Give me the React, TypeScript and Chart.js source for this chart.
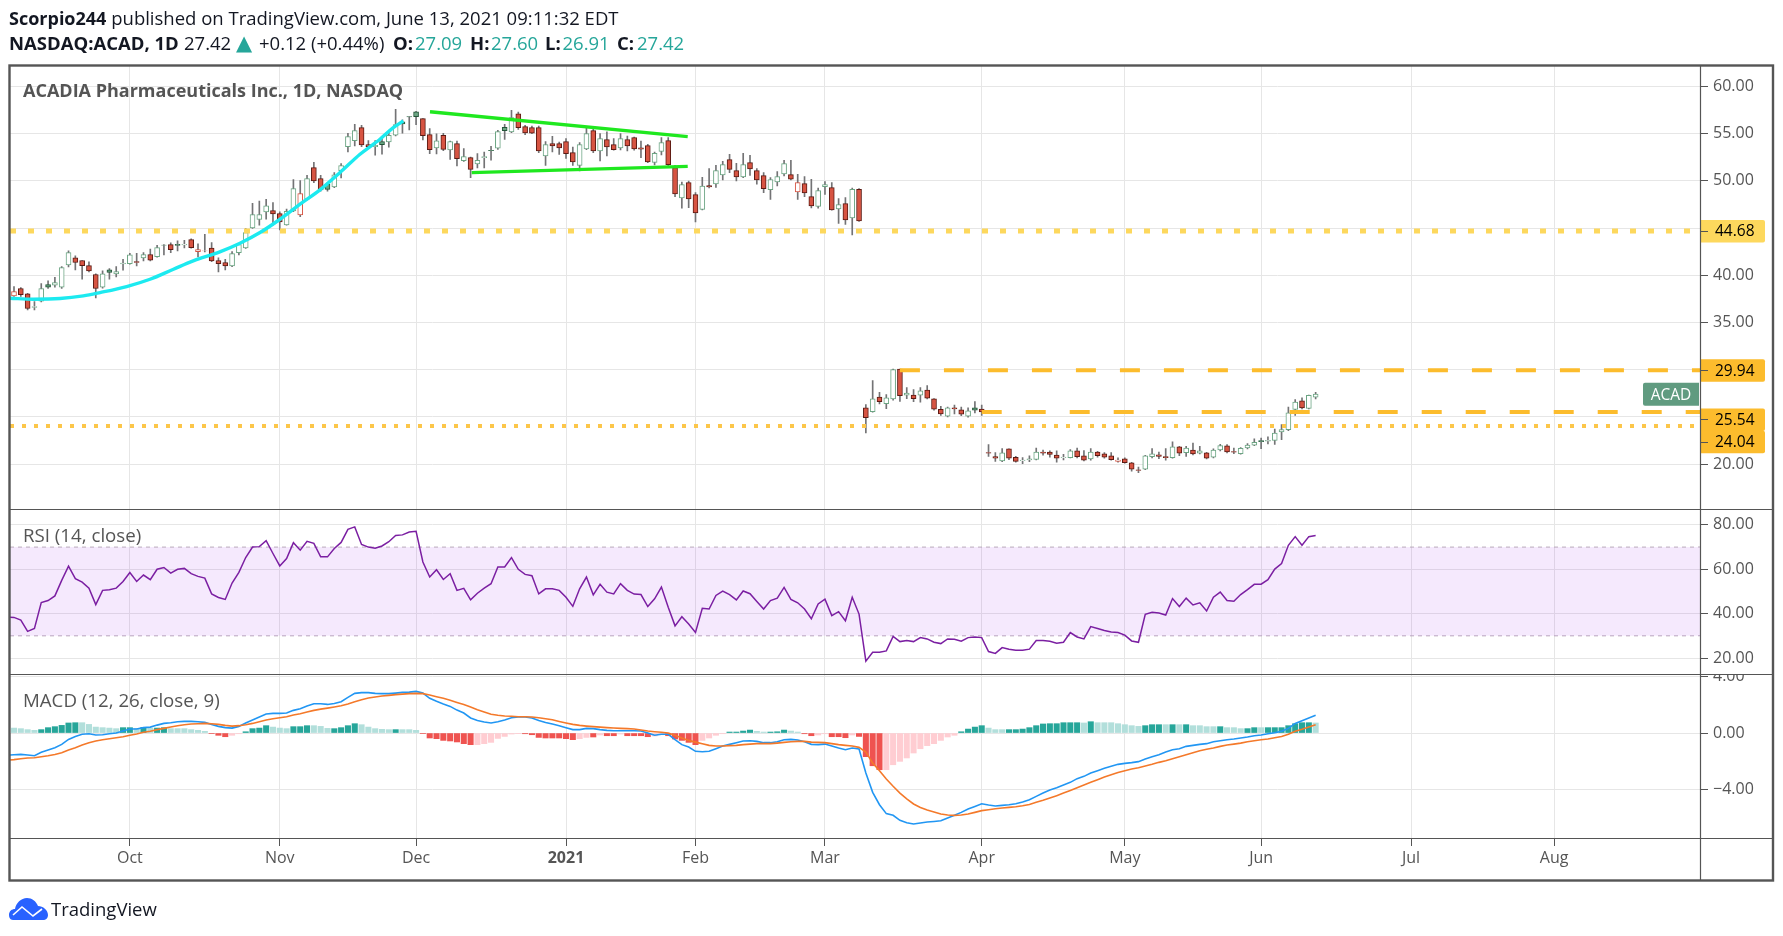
import React, { useEffect, useRef } from "react";
import { Chart, registerables } from "chart.js";

Chart.register(...registerables);

const opens = [
  37.82,38.60,38.03,36.60,37.25,39.02,38.95,38.74,41.10,41.84,
  41.56,41.03,40.08,38.74,40.57,40.15,41.20,41.24,41.45,41.84,
  42.20,41.98,43.20,43.25,43.28,43.21,43.78,42.51,42.59,42.88,
  41.56,41.35,40.99,42.40,42.90,45.00,45.90,46.71,46.85,46.53,
  45.33,46.81,46.39,48.05,51.40,50.24,49.64,49.35,51.08,53.62,
  54.26,55.63,53.83,53.62,54.15,54.12,54.82,56.23,56.80,57.29,
  56.58,54.89,53.48,54.81,53.26,53.93,52.13,52.45,51.78,52.45,
  53.22,53.44,55.66,55.17,57.10,55.73,55.62,55.62,52.63,53.93,
  53.93,54.14,52.98,51.64,53.37,55.31,53.15,54.35,53.82,53.47,
  54.35,54.57,53.50,53.72,51.95,53.12,54.25,51.39,48.18,49.80,
  48.53,46.98,49.49,49.66,50.61,52.24,51.07,50.40,51.92,51.07,
  50.54,49.06,49.87,50.72,50.65,48.82,49.70,48.32,47.30,49.38,
  49.27,47.02,47.58,46.06,49.10,25.96,25.57,27.12,26.42,26.91,
  30.08,27.30,27.33,27.30,27.86,26.91,25.82,25.08,25.96,25.75,
  25.08,25.96,25.85,21.23,20.81,20.35,21.62,20.74,20.38,20.45,
  20.52,21.30,21.30,20.98,20.70,20.70,21.41,20.88,20.56,21.30,
  21.09,20.88,20.31,20.56,20.14,19.40,19.47,20.81,21.00,20.80,
  20.70,21.83,21.23,21.51,21.16,21.20,20.74,21.51,21.94,21.34,
  21.13,21.72,22.01,22.50,22.43,22.53,23.42,23.66,25.80,26.70,
  25.90,27.09,
];
const highs = [
  38.81,38.70,38.10,37.22,39.12,39.40,39.79,40.92,42.58,42.05,
  41.56,41.42,40.15,40.47,40.71,40.92,41.70,42.33,42.33,42.40,
  42.76,43.18,43.25,43.43,43.64,43.71,43.85,43.32,44.34,43.46,
  41.84,41.70,42.51,43.36,44.95,47.62,47.84,48.05,47.70,46.71,
  47.00,50.13,50.02,50.59,51.96,50.59,49.81,50.87,51.82,55.03,
  55.98,55.88,54.26,54.26,54.57,55.24,57.57,56.44,56.80,57.36,
  56.58,55.53,54.96,55.02,54.20,54.21,53.40,52.52,52.87,53.05,
  53.65,55.34,55.98,57.46,57.28,55.87,55.80,55.80,54.14,54.71,
  54.10,54.46,53.58,54.04,55.62,55.45,54.99,55.17,54.46,54.99,
  54.74,54.64,54.21,53.86,53.05,54.57,54.57,51.64,49.87,49.98,
  48.75,50.37,51.29,51.64,52.06,52.80,51.85,52.91,52.70,51.29,
  50.86,50.33,50.97,52.17,52.17,50.69,50.44,50.16,49.24,49.91,
  49.80,48.11,48.22,49.24,49.17,26.31,28.85,27.62,27.37,30.08,
  30.08,28.11,27.90,28.11,28.32,26.94,26.13,26.06,26.27,26.06,
  25.96,26.63,26.27,22.08,21.23,21.65,21.62,20.84,20.70,20.88,
  21.72,21.51,21.41,21.41,21.05,21.55,21.72,21.44,21.65,21.37,
  21.23,21.23,20.67,20.67,20.21,19.71,20.95,21.65,21.30,21.65,
  22.36,21.90,21.90,22.25,21.90,21.27,21.62,22.11,22.08,21.72,
  21.76,22.18,22.68,22.78,22.89,23.73,24.20,26.06,26.84,27.02,
  27.33,27.60,
];
const lows = [
  37.75,37.75,36.34,36.34,37.18,38.60,38.74,38.60,40.89,40.57,
  39.58,40.36,37.61,38.63,39.58,39.83,40.53,41.17,40.99,41.52,
  41.52,41.91,42.16,42.40,42.58,42.90,42.86,41.95,42.47,41.45,
  40.36,40.57,40.92,42.16,42.83,44.95,45.30,45.93,45.30,44.80,
  45.30,46.74,46.21,47.98,49.81,48.90,48.90,49.28,50.30,53.06,
  53.69,53.62,53.48,52.70,52.81,53.55,54.75,55.03,55.38,55.95,
  54.33,52.88,52.84,53.19,52.27,51.57,52.06,50.33,51.36,51.36,
  52.17,53.33,54.39,55.10,55.45,54.88,54.99,52.98,51.64,53.05,
  52.80,52.38,51.64,51.04,53.30,52.98,52.10,52.63,53.23,53.26,
  53.15,53.23,52.45,51.92,51.67,52.73,51.50,48.32,47.09,47.16,
  45.64,46.91,49.24,49.31,50.09,50.86,49.98,50.33,50.58,49.63,
  48.75,48.04,49.45,50.51,50.09,48.04,48.32,47.12,47.09,48.57,
  46.88,45.50,45.39,44.27,45.71,23.31,25.50,26.38,25.89,26.77,
  26.66,26.94,26.63,26.56,26.91,25.71,25.18,25.00,25.32,25.15,
  24.97,25.43,25.18,20.84,20.30,20.28,20.49,20.21,20.07,20.28,
  20.45,20.95,20.74,20.21,20.45,20.67,20.67,20.35,20.42,20.74,
  20.63,20.42,20.21,20.10,19.26,19.11,19.43,20.67,20.60,20.42,
  20.63,20.91,20.84,20.98,21.09,20.56,20.67,21.41,21.20,21.13,
  21.06,21.62,21.97,21.65,22.15,22.11,22.60,23.56,25.18,25.85,
  25.85,26.91,
];
const closes = [
  38.28,37.96,36.48,36.70,38.60,38.74,39.23,40.82,42.40,41.35,
  41.03,40.46,38.60,40.15,40.29,40.39,41.30,42.16,41.35,42.20,
  41.59,42.93,43.18,42.72,43.15,43.27,42.93,42.72,42.60,41.52,
  41.24,40.99,42.30,43.25,44.52,46.43,46.43,47.34,46.50,45.65,
  46.78,49.18,48.65,50.24,49.99,49.04,49.10,50.62,51.61,54.68,
  55.31,53.80,53.62,53.75,53.83,54.82,55.95,56.02,56.75,56.80,
  54.78,53.30,54.22,53.33,54.14,52.34,52.55,51.21,52.17,52.55,
  53.20,55.20,55.30,56.68,55.62,55.06,55.04,53.15,53.82,53.68,
  53.47,52.87,51.99,53.82,54.99,53.15,54.46,53.58,53.30,54.46,
  53.68,53.37,53.35,51.99,52.91,54.04,51.71,48.60,49.59,48.08,
  46.59,49.45,49.36,51.07,51.71,51.21,50.40,51.71,51.25,50.09,
  49.17,50.12,50.44,51.81,50.16,49.80,48.71,47.33,48.96,49.59,
  46.91,47.47,45.85,49.10,45.75,24.94,26.91,26.63,27.02,30.01,
  27.26,27.54,26.94,27.76,26.98,25.82,25.32,25.96,25.85,25.29,
  25.64,25.71,25.53,21.16,20.63,21.20,20.63,20.31,20.45,20.56,
  21.30,21.16,21.05,20.63,20.77,21.41,20.81,20.42,21.30,20.91,
  20.74,20.49,20.45,20.17,19.47,19.34,20.88,21.09,20.84,20.70,
  21.83,21.16,21.72,21.09,21.41,20.63,21.51,21.97,21.30,21.27,
  21.69,22.04,22.32,22.40,22.53,23.31,23.66,25.43,26.59,25.96,
  27.30,27.42,
];
const closeBeforeFirstBar = 38.5;

const rsi = [
  38.3,37.1,32,33.3,45,45.9,48,55,61.4,55.8,
  54.2,51.5,44.1,50.5,50.8,51.5,54.5,58.5,54.5,57.4,
  55.3,60,60.8,58.3,60,60.4,58,56.8,56,48.9,
  47.3,46.4,53.8,58.6,65.3,70,70.2,72.9,67.1,61.5,
  64.8,72,68.6,72.6,71.7,65.6,65.6,69.4,72.1,78,
  79.1,71.2,70,69.5,70.5,72.4,75.2,75.5,76.8,77.1,
  63.3,56.5,59.8,55.4,58,50.5,51.4,46.2,49.2,51.5,
  53.5,61,61,65.3,60,57.7,57.1,48.9,51.2,51.2,
  50.5,47.4,43.3,51.2,56.5,48.5,53.2,49.7,48.9,53.5,
  50.5,48.8,48.6,43.2,46.7,52,42.9,34.5,38.6,35.3,
  31.5,42.4,42.1,48.2,50.2,48.6,46.2,50.2,49,45.5,
  42.1,45.9,47,51.8,46.4,44.9,42.1,37.7,44.4,46.5,
  39.1,40.9,36.8,47.4,39.8,18.6,22.6,22.6,23.2,29.7,
  27.4,27.9,27.4,29.2,28.6,27.1,26.5,28.6,28.5,27.6,
  29.2,29.5,29.2,22.9,22.1,24.7,24,23.5,23.5,24,
  27.9,27.9,27.6,26.7,27.1,31.5,29.5,28.6,34.2,33.3,
  32.4,31.7,31.5,30.3,27.7,27.1,39.7,40.6,40.3,39.4,
  46.8,43.2,47,43.9,44.9,41.2,47.4,49.7,45.9,45.6,
  48.6,50.8,53.2,53.3,55.3,60.1,62.6,70.8,74.7,70.8,
  74.7,75.2,
];
const rsiBeforeFirstBar = 38.5;

const macdLine = [
  -1.53,-1.51,-1.55,-1.60,-1.36,-1.20,-1.04,-0.80,-0.45,-0.24,
  -0.09,-0.05,-0.14,-0.12,-0.05,0,0.14,0.28,0.28,0.38,
  0.42,0.56,0.68,0.73,0.80,0.82,0.82,0.80,0.75,0.61,
  0.47,0.38,0.35,0.47,0.71,0.92,1.13,1.34,1.39,1.39,
  1.41,1.60,1.72,1.91,2.07,2.07,2.02,2.09,2.21,2.52,
  2.80,2.85,2.85,2.80,2.78,2.78,2.82,2.87,2.89,2.94,
  2.82,2.45,2.24,2.05,1.88,1.62,1.41,1.06,0.89,0.78,
  0.71,0.80,0.92,1.08,1.13,1.13,1.06,0.89,0.75,0.64,
  0.52,0.38,0.24,0.24,0.33,0.31,0.24,0.19,0.16,0.16,
  0.16,0.16,0.14,0,-0.16,-0.09,-0.09,-0.47,-0.82,-0.99,
  -1.29,-1.32,-1.29,-1.11,-0.92,-0.80,-0.68,-0.56,-0.54,-0.59,
  -0.68,-0.68,-0.61,-0.47,-0.45,-0.49,-0.61,-0.80,-0.82,-0.78,
  -0.92,-1.06,-1.18,-1.06,-1.13,-2.82,-4.19,-5.06,-5.69,-5.81,
  -6.16,-6.33,-6.42,-6.35,-6.28,-6.24,-6.19,-6.00,-5.81,-5.60,
  -5.36,-5.18,-4.99,-5.08,-5.15,-5.11,-5.06,-4.99,-4.87,-4.71,
  -4.47,-4.24,-4.02,-3.86,-3.67,-3.48,-3.22,-3.06,-2.82,-2.66,
  -2.49,-2.35,-2.21,-2.14,-2.09,-2.02,-1.84,-1.67,-1.53,-1.34,
  -1.18,-1.11,-0.94,-0.87,-0.80,-0.75,-0.61,-0.54,-0.47,-0.42,
  -0.35,-0.28,-0.19,-0.14,-0.05,0.02,0.12,0.33,0.68,0.87,
  1.06,1.25,
];
const macdBeforeFirstBar = -1.56;
const signalLine = [
  -1.88,-1.81,-1.76,-1.74,-1.67,-1.60,-1.51,-1.39,-1.20,-1.04,
  -0.85,-0.68,-0.56,-0.47,-0.40,-0.33,-0.26,-0.16,-0.07,0.05,
  0.12,0.24,0.33,0.42,0.52,0.59,0.64,0.66,0.68,0.66,
  0.61,0.54,0.49,0.52,0.59,0.68,0.80,0.92,1.01,1.08,
  1.15,1.27,1.36,1.48,1.60,1.69,1.76,1.84,1.93,2.05,
  2.21,2.35,2.47,2.54,2.61,2.66,2.71,2.75,2.78,2.80,
  2.78,2.68,2.56,2.45,2.31,2.16,2.02,1.84,1.65,1.48,
  1.32,1.25,1.20,1.18,1.15,1.15,1.13,1.08,1.01,0.94,
  0.82,0.71,0.61,0.54,0.49,0.45,0.42,0.38,0.35,0.33,
  0.31,0.28,0.21,0.14,0.09,0.05,0,-0.16,-0.35,-0.52,
  -0.64,-0.75,-0.87,-0.92,-0.92,-0.89,-0.87,-0.82,-0.78,-0.75,
  -0.75,-0.75,-0.71,-0.66,-0.61,-0.59,-0.59,-0.64,-0.66,-0.68,
  -0.75,-0.82,-0.87,-0.92,-1.01,-1.34,-2.12,-2.66,-3.25,-3.76,
  -4.24,-4.64,-5.01,-5.25,-5.44,-5.58,-5.72,-5.79,-5.81,-5.79,
  -5.72,-5.60,-5.48,-5.41,-5.34,-5.29,-5.25,-5.20,-5.13,-5.04,
  -4.89,-4.75,-4.59,-4.42,-4.24,-4.05,-3.86,-3.67,-3.48,-3.29,
  -3.11,-2.94,-2.78,-2.66,-2.54,-2.45,-2.33,-2.21,-2.07,-1.95,
  -1.81,-1.67,-1.53,-1.39,-1.25,-1.15,-1.06,-0.94,-0.85,-0.78,
  -0.71,-0.61,-0.54,-0.47,-0.42,-0.33,-0.24,-0.09,0.12,0.26,
  0.42,0.59,
];
const signalBeforeFirstBar = -1.92;
const macdHist = [
  .35,.31,.24,.19,.24,.38,.45,.54,.71,.73,
  .73,.61,.42,.38,.35,.31,.38,.38,.33,.40,
  .35,.35,.38,.31,.31,.31,.24,.19,.12,-.03,
  -.16,-.26,-.16,-.05,.09,.31,.35,.52,.42,.35,
  .31,.45,.45,.52,.52,.47,.33,.31,.38,.52,
  .66,.59,.42,.31,.26,.24,.24,.24,.24,.19,
  -.03,-.35,-.40,-.52,-.56,-.63,-.75,-.82,-.82,-.75,
  -.66,-.38,-.24,-.07,-.02,-.05,-.12,-.31,-.35,-.35,
  -.35,-.40,-.47,-.40,-.31,-.28,-.14,-.19,-.19,-.07,
  -.19,-.19,-.19,-.26,-.21,-.12,-.19,-.42,-.52,-.66,
  -.82,-.52,-.35,-.16,-.05,.07,.07,.14,.21,.12,
  .07,.07,.09,.21,.14,.07,-.05,-.19,-.14,-.05,
  -.26,-.26,-.33,-.14,-.24,-1.67,-2.31,-2.59,-2.59,-2.24,
  -2,-1.76,-1.41,-1.11,-.89,-.75,-.52,-.28,-.16,.09,
  .28,.42,.52,.35,.24,.24,.24,.24,.28,.38,
  .52,.64,.66,.66,.73,.73,.73,.71,.80,.73,
  .73,.73,.66,.59,.52,.47,.52,.59,.59,.59,
  .59,.59,.59,.52,.52,.45,.45,.45,.38,.38,
  .31,.31,.38,.38,.38,.38,.38,.52,.66,.73,
  .73,.71,
];
const histShade = (
  "LLLL DDDDDD LLLLLL DD L D L DD LLLLLL DDD LL DDDD LLL DDD LLL DDDD LLLLL D LLL DDDDDDDD LLLLLLL DDDDDDDD " +
  "LL D L DD L DDDD LL DDDDD LLLL DDDD LL DDD LL DD LL DDD L DDDD LLLLLLLLLLL DDDD LLL DDDDDDDDDDD L D LLLLLLL " +
  "DDD L D L D LLLL D LLL DD L DDDDDDD L"
).replace(/ /g, "");

const monthLabels = ["Oct", "Nov", "Dec", "2021", "Feb", "Mar", "Apr", "May", "Jun", "Jul", "Aug"];
const monthBars = [17, 39, 59, 81, 100, 119, 142, 163, 183, 205, 226];

const priceLevels = [44.68, 29.94, 25.54, 24.04];
const dashedLevelStartBar = [130, 142];

const upperTrendBars = [61.04, 98.86];
const upperTrendPrices = [57.31, 54.67];
const lowerTrendBars = [67.16, 98.86];
const lowerTrendPrices = [50.86, 51.53];

const arcBars = [-0.59,2.84,6.75,10.17,12.62,16.53,19.96,23.4,26.3,30.2,33.16,36.1,39.03,41.97,44.9,47.84,50.77,53.7,55.66,57.12];
const arcPrices = [37.57,37.47,37.54,37.82,38.17,38.81,39.58,40.64,41.52,42.48,43.39,44.52,45.93,47.52,49.04,50.87,52.81,54.4,55.63,56.34];

const UI_FONT = '"Open Sans", sans-serif';
const GRID = "#e6e6e6";
const FRAME = "#555555";
const bars = closes.map((_, i) => i);
const xMin = -0.587;
const xMax = 247.4;

const prevClose = (i: number) => (i === 0 ? closeBeforeFirstBar : closes[i - 1]);
const isGreen = (i: number) => closes[i] >= prevClose(i);
const isHollow = (i: number) => closes[i] >= opens[i];
const pts = (xs: number[], ys: number[]) => xs.map((x, i) => ({ x, y: ys[i] }));
const withLeadIn = (first: number, ys: number[]) => pts([-1, ...bars], [first, ...ys]);

const framePlugin = {
  id: "frame",
  afterDraw(chart: any) {
    const { ctx, scales } = chart;
    const py = scales.price;
    ctx.save();
    // the 4.00 label is cut by the pane's edge
    ctx.fillStyle = "#fff";
    ctx.fillRect(1701, 666, 71, 8.3);
    // level tags
    const tags = [
      { v: priceLevels[0], dy: 0, bg: "#fdd85d" },
      { v: priceLevels[1], dy: 0, bg: "#fcbc2d" },
      { v: priceLevels[2], dy: 7.6, bg: "#fcbc2d" },
      { v: priceLevels[3], dy: 15.7, bg: "#fcbc2d" },
    ];
    ctx.font = `15.5px ${UI_FONT}`;
    ctx.textBaseline = "middle";
    ctx.textAlign = "left";
    tags.forEach((t) => {
      const y = py.getPixelForValue(t.v) + t.dy;
      ctx.fillStyle = t.bg;
      ctx.beginPath();
      ctx.roundRect(1700, y - 11, 65, 22.5, [0, 2, 2, 0]);
      ctx.fill();
      ctx.strokeStyle = FRAME;
      ctx.lineWidth = 1;
      ctx.beginPath();
      ctx.moveTo(1700, Math.round(y) + 0.5);
      ctx.lineTo(1708, Math.round(y) + 0.5);
      ctx.stroke();
      ctx.fillStyle = "#000";
      ctx.fillText(t.v.toFixed(2), 1715, y + 1);
    });
    // symbol tag
    const ly = py.getPixelForValue(closes[closes.length - 1]);
    ctx.fillStyle = "#609b80";
    ctx.beginPath();
    ctx.roundRect(1643, ly - 11.5, 56, 23, [2, 0, 0, 2]);
    ctx.fill();
    ctx.fillStyle = "#fff";
    ctx.textAlign = "center";
    ctx.fillText("ACAD", 1671, ly + 1);
    // frame and dividers
    ctx.strokeStyle = FRAME;
    ctx.lineWidth = 1.2;
    ctx.beginPath();
    [509.5, 674.5, 838.5].forEach((y) => {
      ctx.moveTo(10, y);
      ctx.lineTo(1773, y);
    });
    ctx.moveTo(1700.5, 65);
    ctx.lineTo(1700.5, 880);
    ctx.stroke();
    ctx.lineWidth = 2.4;
    ctx.strokeRect(9.5, 65.5, 1763.5, 815);
    ctx.restore();
  },
};

const levelBase = { type: "line", yAxisID: "price", xAxisID: "x", borderCapStyle: "butt", fill: false };

export default function App() {
  const ref = useRef<HTMLCanvasElement | null>(null);

  useEffect(() => {
    if (!ref.current) return;
    const datasets: any[] = [
      {
        type: "bar", yAxisID: "price", order: 20, barThickness: 1, grouped: false,
        data: bars.map((i) => ({ x: i, y: [lows[i], highs[i]] })),
        backgroundColor: "#737375",
      },
      {
        type: "bar", yAxisID: "price", order: 19, barThickness: 5, grouped: false, borderWidth: 1, borderSkipped: false,
        data: bars.map((i) => ({ x: i, y: [Math.min(opens[i], closes[i]), Math.max(opens[i], closes[i])] })),
        backgroundColor: bars.map((i) => (isHollow(i) ? "#ffffff" : isGreen(i) ? "#6ba583" : "#d75442")),
        borderColor: bars.map((i) =>
          isHollow(i) ? (isGreen(i) ? "#6ba583" : "#d75442") : isGreen(i) ? "#225437" : "#5b1a13"
        ),
      },
      { ...levelBase, order: 10, borderColor: "#fdd85d", borderWidth: 5, borderDash: [6, 12], data: pts([xMin, xMax], [priceLevels[0], priceLevels[0]]) },
      { ...levelBase, order: 10, borderColor: "#fcbc2d", borderWidth: 4, borderDash: [20, 24], data: pts([dashedLevelStartBar[0], xMax], [priceLevels[1], priceLevels[1]]) },
      { ...levelBase, order: 10, borderColor: "#fcbc2d", borderWidth: 4, borderDash: [20, 24], data: pts([dashedLevelStartBar[1], xMax], [priceLevels[2], priceLevels[2]]) },
      { ...levelBase, order: 10, borderColor: "#fcc64a", borderWidth: 4, borderDash: [4, 8], data: pts([xMin, xMax], [priceLevels[3], priceLevels[3]]) },
      { ...levelBase, order: 5, borderColor: "#1fe81f", borderWidth: 3.4, data: pts(upperTrendBars, upperTrendPrices) },
      { ...levelBase, order: 5, borderColor: "#1fe81f", borderWidth: 3.4, data: pts(lowerTrendBars, lowerTrendPrices) },
      { ...levelBase, order: 5, borderColor: "#1ceaf0", borderWidth: 3.4, cubicInterpolationMode: "monotone", data: pts(arcBars, arcPrices) },
      // RSI pane
      {
        type: "line", yAxisID: "rsi", order: 30, borderColor: "#b9aabb", borderWidth: 1, borderDash: [4, 4],
        backgroundColor: "rgba(155,38,238,0.10)", fill: "+1", data: pts([xMin, xMax], [70, 70]),
      },
      {
        type: "line", yAxisID: "rsi", order: 31, borderColor: "#b9aabb", borderWidth: 1, borderDash: [4, 4],
        fill: false, data: pts([xMin, xMax], [30, 30]),
      },
      { type: "line", yAxisID: "rsi", order: 6, borderColor: "#7b1fa2", borderWidth: 1.5, fill: false, data: withLeadIn(rsiBeforeFirstBar, rsi) },
      // MACD pane
      {
        type: "bar", yAxisID: "macd", order: 12, barThickness: 5.4, grouped: false,
        data: pts(bars, macdHist),
        backgroundColor: bars.map((i) =>
          macdHist[i] >= 0
            ? histShade[i] === "D" ? "#26a69a" : "#b2dfdb"
            : histShade[i] === "D" ? "#ef5350" : "#ffcdd2"
        ),
      },
      { type: "line", yAxisID: "macd", order: 7, borderColor: "#2196f3", borderWidth: 1.6, fill: false, data: withLeadIn(macdBeforeFirstBar, macdLine) },
      { type: "line", yAxisID: "macd", order: 6, borderColor: "#f4792a", borderWidth: 1.6, fill: false, data: withLeadIn(signalBeforeFirstBar, signalLine) },
    ];

    const yCommon = (weight: number, stackWeight: number) => ({
      type: "linear",
      position: "right",
      stack: "panes",
      stackWeight,
      weight,
      border: { display: false },
      grid: { color: GRID, tickColor: FRAME, tickLength: 8, lineWidth: 1 },
      afterFit(s: any) {
        s.width = 73;
      },
    });
    const tickStyle = { color: "#555", padding: 5, font: { family: UI_FONT, size: 16 } };

    const chart = new Chart(ref.current, {
      type: "bar",
      data: { datasets },
      plugins: [framePlugin],
      options: {
        responsive: false,
        animation: false,
        events: [],
        layout: { padding: { left: 10, top: 66, right: 10, bottom: 56 } },
        elements: { point: { radius: 0 }, line: { tension: 0 } },
        plugins: { legend: { display: false }, tooltip: { enabled: false } },
        scales: {
          x: {
            type: "linear",
            min: xMin,
            max: xMax,
            offset: false,
            border: { display: false },
            grid: { color: GRID, tickColor: FRAME, tickLength: 8, offset: false },
            afterFit(s: any) {
              s.height = 42;
            },
            afterBuildTicks(s: any) {
              s.ticks = monthBars.map((value) => ({ value }));
            },
            ticks: {
              autoSkip: false,
              maxRotation: 0,
              color: "#555",
              padding: 3,
              font: (c: any) => ({ family: UI_FONT, size: 16, weight: c.tick && c.tick.value === 81 ? "bold" : "normal" }),
              callback: (v: any) => monthLabels[monthBars.indexOf(v)] ?? "",
            },
          },
          price: {
            ...yCommon(0, 443.5),
            min: 15.24,
            max: 62.15,
            afterBuildTicks(s: any) {
              s.ticks = [20, 25, 30, 35, 40, 45, 50, 55, 60].map((value) => ({ value }));
            },
            ticks: {
              ...tickStyle,
              callback: (v: any) => ([25, 30, 45].includes(v) ? "" : Number(v).toFixed(2)),
            },
          },
          rsi: {
            ...yCommon(1, 165),
            min: 12.75,
            max: 87.07,
            afterBuildTicks(s: any) {
              s.ticks = [20, 40, 60, 80].map((value) => ({ value }));
            },
            ticks: { ...tickStyle, callback: (v: any) => Number(v).toFixed(2) },
          },
          macd: {
            ...yCommon(2, 164),
            min: -7.41,
            max: 4.16,
            afterBuildTicks(s: any) {
              s.ticks = [-4, 0, 4].map((value) => ({ value }));
            },
            ticks: {
              ...tickStyle,
              callback: (v: any) => (v < 0 ? "\u2212" + Math.abs(v).toFixed(2) : Number(v).toFixed(2)),
            },
          },
        },
      } as any,
    } as any);
    return () => chart.destroy();
  }, []);

  const text = (top: number, left: number, size: number, extra: React.CSSProperties = {}): React.CSSProperties => ({
    position: "absolute",
    top,
    left,
    fontFamily: UI_FONT,
    fontSize: size,
    lineHeight: "24px",
    whiteSpace: "pre",
    color: "#131722",
    ...extra,
  });
  const teal = { color: "#26a69a" };
  const b = { fontWeight: 700 };
  const q1 = 31;

  return (
    <div style={{ position: "fixed", left: 0, top: 0, width: 1783, height: 936, background: "#fff", overflow: "hidden" }}>
      <canvas ref={ref} width={1783} height={936} style={{ display: "block", position: "absolute", left: 0, top: 0 }} />
      <div style={text(6, 9, 18.5)}>
        <span style={{ ...b, fontSize: 18 }}>Scorpio244</span> published on TradingView.com, June 13, 2021 09:11:32 EDT
      </div>
      <div style={text(q1, 9, 18.5, b)}>NASDAQ:ACAD, 1D</div>
      <div style={text(q1, 184, 18.5)}>27.42</div>
      <div style={text(q1, 236, 21, { ...teal, fontFamily: '"DejaVu Sans"' })}>▲</div>
      <div style={text(q1, 259, 18.5)}>+0.12 (+0.44%)</div>
      <div style={text(q1, 393, 18.5, b)}>O:</div>
      <div style={text(q1, 415, 18.5, teal)}>27.09</div>
      <div style={text(q1, 470, 18.5, b)}>H:</div>
      <div style={text(q1, 491, 18.5, teal)}>27.60</div>
      <div style={text(q1, 545, 18.5, b)}>L:</div>
      <div style={text(q1, 562.5, 18.5, teal)}>26.91</div>
      <div style={text(q1, 617, 18.5, b)}>C:</div>
      <div style={text(q1, 637, 18.5, teal)}>27.42</div>
      <div style={text(78, 23, 18, { fontWeight: 700, color: "#555" })}>ACADIA Pharmaceuticals Inc., 1D, NASDAQ</div>
      <div style={text(523, 23, 18.7, { color: "#555" })}>RSI (14, close)</div>
      <div style={text(688, 23, 18.7, { color: "#555" })}>MACD (12, 26, close, 9)</div>
      <svg style={{ position: "absolute", left: 9, top: 898 }} width={39} height={22} viewBox="0 0 39 22">
        <path d="M4 22 C1 22 0 19 0 17 C0 13 3 11 6 11 C7 5 12 0 18 0 C23 0 27 3 29 8 C34 8 39 12 39 17 C39 20 37 22 34 22 Z" fill="#2962ff" />
        <path d="M4 17 L13 9 L24 18 L33 11" fill="none" stroke="#fff" strokeWidth="1.6" />
      </svg>
      <div style={text(897, 51, 18.5, { color: "#131722" })}>TradingView</div>
    </div>
  );
}
